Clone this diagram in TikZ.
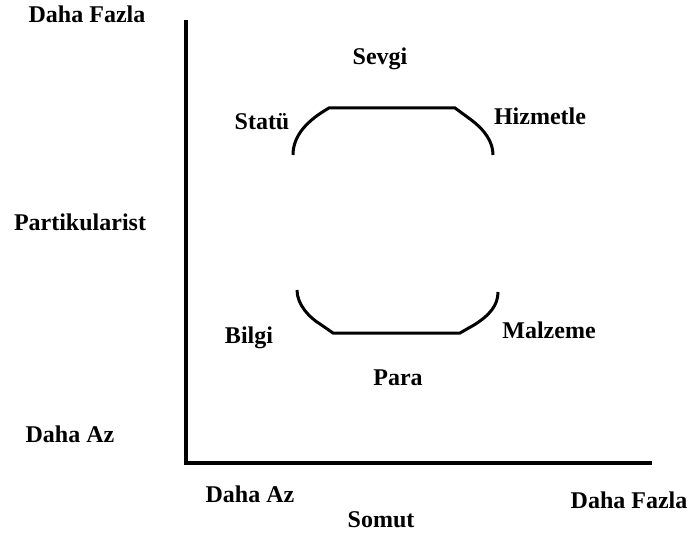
\documentclass[tikz,border=0pt]{standalone}
\usepackage{fontspec}
\setmainfont{Liberation Serif}
\begin{document}
\begin{tikzpicture}[x=1pt,y=-1pt,
  lbl/.style={font=\fontsize{24}{27}\selectfont\bfseries, inner sep=0pt},
  axis/.style={line width=4.5pt},
  curve/.style={line width=3pt}]
\useasboundingbox (0,0) rectangle (692,534);
% axes
\coordinate (top) at (186,20);
\coordinate (origin) at (186,463);
\coordinate (right) at (652,463);
\draw[axis] (top) -- (origin.center) -- (right);
% axis labels
\node[lbl] (yhigh) at (87,14) {Daha Fazla};
\node[lbl] (ymid) at (80,222) {Partikularist};
\node[lbl] (ylow) at (70,434) {Daha Az};
\node[lbl] (xlow) at (250,494) {Daha Az};
\node[lbl] (xmid) at (381,520) {Somut};
\node[lbl] (xhigh) at (629,500) {Daha Fazla};
% inner labels
\node[lbl] (sevgi) at (380,59) {Sevgi};
\node[lbl] (statu) at (262,122) {Statü};
\node[lbl] (hizmet) at (540,116) {Hizmetle};
\node[lbl] (bilgi) at (249,338) {Bilgi};
\node[lbl] (malzeme) at (549,330) {Malzeme};
\node[lbl] (para) at (398,378) {Para};
% upper bracket
\coordinate (u1) at (293,155);
\coordinate (u2) at (329,108);
\coordinate (u3) at (455,108);
\coordinate (u4) at (493,155);
\draw[curve] (u1) .. controls (293,135) and (308,120) .. (u2) -- (u3)
  -- (470,119) .. controls (485,130) and (493,142) .. (u4);
% lower bracket
\coordinate (l1) at (297,290);
\coordinate (l2) at (333,333);
\coordinate (l3) at (460,333);
\coordinate (l4) at (498,292);
\draw[curve] (l1) .. controls (297,305) and (310,318) .. (320,324) -- (l2) -- (l3)
  -- (474,325) .. controls (490,315) and (498,305) .. (l4);
\end{tikzpicture}
\end{document}
